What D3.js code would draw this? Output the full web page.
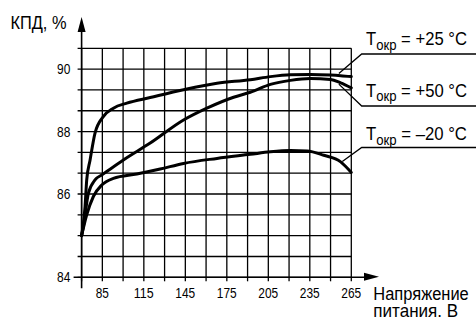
<!DOCTYPE html>
<html>
<head>
<meta charset="utf-8">
<script src="https://cdn.jsdelivr.net/npm/d3@7"></script>
<style>
  html, body { margin:0; padding:0; background:#fff; }
  svg text { font-family: "Liberation Sans", Arial, sans-serif; fill:#000; }
</style>
</head>
<body>
<div id="chart"></div>
<script>
// grid / tick values
var xGrid = [70, 85, 100, 115, 130, 145, 160, 175, 190, 205, 220, 235, 250, 265]
var xTicks = [85, 115, 145, 175, 205, 235, 265]
var yGrid = [84, 84.5, 85, 85.5, 86, 86.667, 87.333, 88, 88.667, 89.333, 90, 90.667]
var yTicks = [84, 86, 88, 90]

// curves: [voltage, efficiency]
var t25 = [[70,85.0],[72.5,85.7],[73.7,86.45],[76.1,87.08],[79.7,87.95],[85.7,88.48],[93,88.75],
  [102.7,88.91],[119.6,89.09],[143.7,89.34],[167.9,89.55],[192,89.66],[206.5,89.76],[221,89.82],
  [235.5,89.83],[250,89.81],[257.3,89.79],[265,89.76]]
var t50 = [[70,85.0],[71.2,85.2],[74.9,86.02],[79.7,86.45],[85,86.62],[88.2,86.72],[100.2,87.09],
  [119.6,87.63],[143.7,88.37],[160.6,88.75],[179.9,89.1],[192,89.26],[206.5,89.51],[221,89.64],
  [235.5,89.7],[250,89.67],[257.3,89.56],[265,89.4]]
var tm20 = [[70,85.0],[73.7,85.5],[78.5,85.94],[84.6,86.29],[93,86.5],[109.9,86.64],[126.8,86.8],
  [143.7,86.98],[167.9,87.14],[192,87.27],[206.5,87.35],[221,87.39],[233.1,87.38],[245.1,87.24],
  [257.3,87.03],[265,86.69]]

var legendTemps = ["+25 °C", "+50 °C", "\u201320 °C"]
var legendAnchors = [[256, 89.86], [256, 89.52], [258.5, 87.04]]

var w = 476, h = 321
var mLeft = 81.6, mRight = 351.3, mBottom = 277.3, mTop = 48.3

var x = d3.scaleLinear().domain([70, 265]).range([mLeft, mRight])
// the y axis of the original is not uniform: 84..86 is stretched
var y = d3.scaleLinear().domain([84, 86, 90.667]).range([mBottom, 194, mTop])

var svg = d3.select("#chart").append("svg")
  .attr("width", w).attr("height", h)

// squeeze a text horizontally so it looks like the condensed face of the original
function condense(sel, px, py, width, anchor) {
  sel.each(function(d, i) {
    let el = d3.select(this)
    let tw = typeof width === "function" ? width(d) : width
    let bw = this.getBBox().width
    let k = tw / bw
    let xx = typeof px === "function" ? px(d) : px
    let yy = typeof py === "function" ? py(d) : py
    let shift = anchor === "end" ? -tw : anchor === "middle" ? -tw / 2 : 0
    el.attr("x", 0).attr("y", 0)
      .attr("transform", `translate(${xx + shift},${yy}) scale(${k},1)`)
  })
}

// grid
svg.append("g").selectAll("line")
  .data(xGrid).enter().append("line")
  .attr("x1", d => x(d)).attr("x2", d => x(d))
  .attr("y1", mTop).attr("y2", mBottom + 4)
  .attr("stroke", "#000").attr("stroke-width", 1.3)

svg.append("g").selectAll("line")
  .data(yGrid).enter().append("line")
  .attr("x1", mLeft - 4).attr("x2", mRight)
  .attr("y1", d => y(d)).attr("y2", d => y(d))
  .attr("stroke", "#000").attr("stroke-width", 1.3)

// axes with arrows
svg.append("line")
  .attr("x1", mLeft).attr("x2", mLeft)
  .attr("y1", mBottom + 11).attr("y2", 28)
  .attr("stroke", "#000").attr("stroke-width", 1.6)
svg.append("path")
  .attr("d", `M${mLeft},17 L${mLeft-4},32 L${mLeft+4},32 Z`)
  .attr("fill", "#000")

svg.append("line")
  .attr("x1", mLeft - 8).attr("x2", 368)
  .attr("y1", mBottom).attr("y2", mBottom)
  .attr("stroke", "#000").attr("stroke-width", 1.6)
svg.append("path")
  .attr("d", `M379,${mBottom-0.5} L364,${mBottom-4.5} L364,${mBottom+3.5} Z`)
  .attr("fill", "#000")

// tick labels
svg.append("g").selectAll("text")
  .data(yTicks).enter().append("text")
  .style("font-size", "14px")
  .text(d => d)
  .call(condense, 70.5, d => y(d) + 5, 13.5, "end")

svg.append("g").selectAll("text")
  .data(xTicks).enter().append("text")
  .style("font-size", "14px")
  .text(d => d)
  .call(condense, d => x(d), 297.5, d => String(d).length * 6.7, "middle")

// axis titles
svg.append("text").style("font-size", "18.5px").text("КПД, %")
  .call(condense, 10.5, 28.5, 56)
svg.append("text").style("font-size", "17.5px").text("Напряжение")
  .call(condense, 373.3, 299.5, 95.5)
svg.append("text").style("font-size", "17.5px").text("питания. В")
  .call(condense, 373.3, 316.5, 85)

// curves
var line = d3.line()
  .x(d => x(d[0])).y(d => y(d[1]))
  .curve(d3.curveMonotoneX)

svg.append("g").selectAll("path")
  .data([t25, t50, tm20]).enter().append("path")
  .attr("d", line)
  .attr("fill", "none")
  .attr("stroke", "#000")
  .attr("stroke-width", 3)
  .attr("stroke-linecap", "round")

// legend callouts
var labelY = [45, 96.5, 140]
var underY = [54, 106, 147.5]

for (let i = 0; i < legendTemps.length; i++) {
  let a = legendAnchors[i]
  svg.append("polyline")
    .attr("points", `${x(a[0])},${y(a[1])} 361.7,${underY[i]} 476,${underY[i]}`)
    .attr("fill", "none")
    .attr("stroke", "#000")
    .attr("stroke-width", 1.3)

  let t = svg.append("text")
    .style("font-size", "19px")
  t.append("tspan").text("Т")
  t.append("tspan").attr("dy", 4.5).style("font-size", "15px").text("окр")
  t.append("tspan").attr("dy", -4.5).text(" = " + legendTemps[i])
  t.call(condense, 366, labelY[i], 101)
}
</script>
</body>
</html>
